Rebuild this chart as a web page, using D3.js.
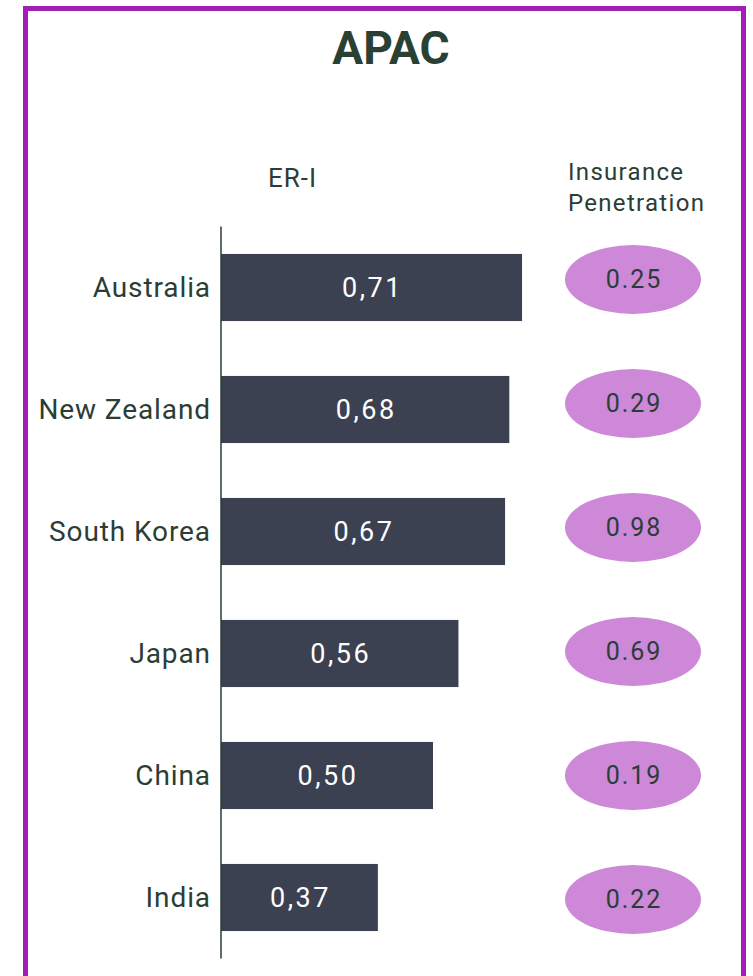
<!DOCTYPE html>
<html>
<head>
<meta charset="utf-8">
<script src="https://cdn.jsdelivr.net/npm/d3@7"></script>
<style>
  body { margin: 0; background: #fff; }
  .chart { width: 753px; height: 976px; }
</style>
</head>
<body>
<div class="chart"></div>
<script>
const countries = ["Australia", "New Zealand", "South Korea", "Japan", "China", "India"];
const eri = [0.71, 0.68, 0.67, 0.56, 0.50, 0.37];
const penetration = [0.25, 0.29, 0.98, 0.69, 0.19, 0.22];

const W = 753, H = 976;
const textColor = "#2b3d35";
const formatEri = d => d3.format(".2f")(d).replace(".", ",");

const svg = d3.select(".chart")
  .append("svg")
  .attr("width", W)
  .attr("height", H)
  .style("font-family", "Roboto, 'Open Sans', sans-serif");

// purple frame (bottom edge runs off the page)
svg.append("rect")
  .attr("x", 25.5)
  .attr("y", 8.5)
  .attr("width", 718)
  .attr("height", 1000)
  .attr("fill", "none")
  .attr("stroke", "#a11fb5")
  .attr("stroke-width", 5);

svg.append("text")
  .attr("x", 391)
  .attr("y", 64)
  .attr("text-anchor", "middle")
  .attr("fill", "#2a4035")
  .style("font-size", "46px")
  .style("font-weight", "bold")
  .text("APAC");

const x = d3.scaleLinear()
  .domain([0, 1])
  .range([221, 645]);

const y = d3.scaleBand()
  .domain(countries)
  .range([226.5, 958.5])
  .paddingInner(0.45)
  .paddingOuter(0.225);

// ellipses sit on their own slightly wider spacing
const yDot = d3.scalePoint()
  .domain(countries)
  .range([279.5, 899.5]);

// column headers
svg.append("text")
  .attr("x", 268)
  .attr("y", 187)
  .attr("fill", textColor)
  .style("font-size", "26px")
  .style("letter-spacing", "1px")
  .text("ER-I");

const head = svg.append("text")
  .attr("x", 568)
  .attr("y", 180)
  .attr("fill", textColor)
  .style("font-size", "24px")
  .style("letter-spacing", "1.3px");
head.append("tspan").attr("x", 568).text("Insurance");
head.append("tspan").attr("x", 568).attr("dy", 31).text("Penetration");

const rows = countries.map((c, i) => ({country: c, eri: eri[i], pen: penetration[i]}));

// category labels
svg.selectAll("text.label")
  .data(rows)
  .enter()
  .append("text")
  .attr("class", "label")
  .attr("x", 211)
  .attr("y", d => y(d.country) + y.bandwidth() / 2)
  .attr("dy", "0.35em")
  .attr("text-anchor", "end")
  .attr("fill", textColor)
  .style("font-size", "28px")
  .style("letter-spacing", "0.9px")
  .text(d => d.country);

svg.selectAll("rect.bar")
  .data(rows)
  .enter()
  .append("rect")
  .attr("class", "bar")
  .attr("x", x(0))
  .attr("y", d => y(d.country))
  .attr("width", d => x(d.eri) - x(0))
  .attr("height", y.bandwidth())
  .attr("fill", "#3b4150");

svg.selectAll("text.value")
  .data(rows)
  .enter()
  .append("text")
  .attr("class", "value")
  .attr("x", d => (x(0) + x(d.eri)) / 2 + 1)
  .attr("y", d => y(d.country) + y.bandwidth() / 2)
  .attr("dy", "0.35em")
  .attr("text-anchor", "middle")
  .attr("fill", "#ffffff")
  .style("font-size", "27px")
  .style("letter-spacing", "2.5px")
  .text(d => formatEri(d.eri));

// axis line
svg.append("line")
  .attr("x1", x(0))
  .attr("x2", x(0))
  .attr("y1", y.range()[0])
  .attr("y2", y.range()[1])
  .attr("stroke", "#2b3d35")
  .attr("stroke-width", 1.5);

svg.selectAll("ellipse.pen")
  .data(rows)
  .enter()
  .append("ellipse")
  .attr("class", "pen")
  .attr("cx", 633)
  .attr("cy", d => yDot(d.country))
  .attr("rx", 68)
  .attr("ry", 34.5)
  .attr("fill", "#cd88d8");

svg.selectAll("text.pen")
  .data(rows)
  .enter()
  .append("text")
  .attr("class", "pen")
  .attr("x", 634)
  .attr("y", d => yDot(d.country))
  .attr("dy", "0.35em")
  .attr("text-anchor", "middle")
  .attr("fill", "#2b3d35")
  .style("font-size", "25px")
  .style("letter-spacing", "2px")
  .text(d => d3.format(".2f")(d.pen));
</script>
</body>
</html>
